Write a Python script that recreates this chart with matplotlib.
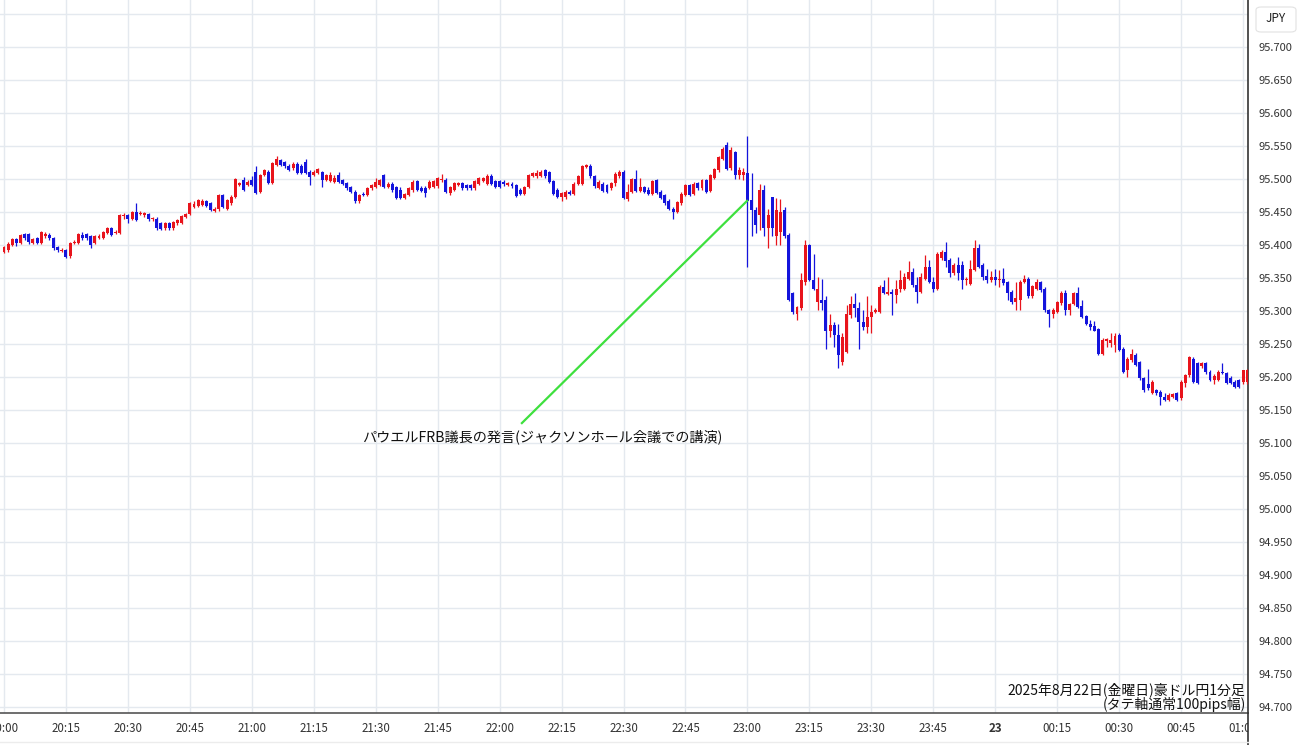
import numpy as np
import matplotlib
matplotlib.use("Agg")
import matplotlib.pyplot as plt
from matplotlib.lines import Line2D
from matplotlib.patches import FancyBboxPatch
from matplotlib.ticker import MultipleLocator, FuncFormatter
from matplotlib.transforms import Bbox, TransformedBbox

plt.rcParams['font.family'] = ['Noto Sans CJK JP', 'DejaVu Sans']

# ---- data: AUD/JPY 1-minute bars, 20:00 -> 01:01 (index = minutes since 20:00)
opens = [
    95.390, 95.392, 95.400, 95.409, 95.403, 95.417, 95.416, 95.403, 95.410, 95.403,
    95.413, 95.415, 95.410, 95.397, 95.391, 95.392, 95.383, 95.403, 95.403, 95.415,
    95.416, 95.413, 95.403, 95.411, 95.411, 95.418, 95.425, 95.418, 95.418, 95.444,
    95.445, 95.440, 95.450, 95.447, 95.445, 95.447, 95.439, 95.440, 95.433, 95.425,
    95.433, 95.425, 95.433, 95.434, 95.443, 95.447, 95.458, 95.459, 95.461, 95.466,
    95.463, 95.452, 95.454, 95.476, 95.455, 95.463, 95.473, 95.491, 95.498, 95.491,
    95.499, 95.510, 95.481, 95.506, 95.511, 95.494, 95.521, 95.529, 95.526, 95.520,
    95.516, 95.523, 95.520, 95.525, 95.511, 95.506, 95.509, 95.510, 95.499, 95.497,
    95.496, 95.506, 95.498, 95.494, 95.488, 95.481, 95.466, 95.478, 95.476, 95.486,
    95.488, 95.491, 95.506, 95.488, 95.493, 95.488, 95.483, 95.471, 95.476, 95.483,
    95.497, 95.487, 95.487, 95.487, 95.488, 95.489, 95.498, 95.499, 95.479, 95.484,
    95.491, 95.494, 95.491, 95.491, 95.486, 95.493, 95.497, 95.493, 95.505, 95.497,
    95.497, 95.495, 95.491, 95.493, 95.491, 95.484, 95.478, 95.488, 95.505, 95.504,
    95.505, 95.513, 95.510, 95.497, 95.484, 95.472, 95.472, 95.481, 95.478, 95.493,
    95.493, 95.518, 95.520, 95.504, 95.487, 95.493, 95.491, 95.486, 95.494, 95.504,
    95.511, 95.469, 95.481, 95.500, 95.482, 95.488, 95.484, 95.478, 95.498, 95.481,
    95.476, 95.467, 95.455, 95.450, 95.463, 95.476, 95.491, 95.477, 95.494, 95.486,
    95.498, 95.482, 95.502, 95.513, 95.531, 95.551, 95.516, 95.541, 95.506, 95.506,
    95.509, 95.468, 95.453, 95.445, 95.483, 95.425, 95.473, 95.413, 95.420, 95.453,
    95.415, 95.327, 95.296, 95.304, 95.344, 95.400, 95.347, 95.314, 95.317, 95.317,
    95.269, 95.279, 95.264, 95.223, 95.238, 95.294, 95.311, 95.304, 95.284, 95.276,
    95.291, 95.299, 95.299, 95.337, 95.326, 95.329, 95.324, 95.334, 95.334, 95.349,
    95.359, 95.339, 95.329, 95.349, 95.367, 95.344, 95.334, 95.380, 95.390, 95.377,
    95.357, 95.370, 95.370, 95.347, 95.341, 95.362, 95.395, 95.370, 95.353, 95.347,
    95.352, 95.347, 95.349, 95.344, 95.329, 95.314, 95.317, 95.344, 95.349, 95.322,
    95.334, 95.344, 95.334, 95.301, 95.296, 95.299, 95.312, 95.328, 95.301, 95.311,
    95.327, 95.307, 95.292, 95.281, 95.277, 95.272, 95.235, 95.254, 95.251, 95.248,
    95.264, 95.243, 95.210, 95.226, 95.233, 95.222, 95.198, 95.190, 95.175, 95.180,
    95.178, 95.170, 95.165, 95.170, 95.175, 95.168, 95.191, 95.203, 95.228, 95.221,
    95.216, 95.221, 95.208, 95.196, 95.195, 95.208, 95.206, 95.198, 95.193, 95.195,
    95.193, 95.193,
]
highs = [
    95.399, 95.404, 95.411, 95.411, 95.417, 95.418, 95.418, 95.411, 95.412, 95.421,
    95.419, 95.418, 95.412, 95.399, 95.395, 95.394, 95.405, 95.407, 95.418, 95.420,
    95.418, 95.415, 95.415, 95.416, 95.421, 95.427, 95.427, 95.422, 95.447, 95.448,
    95.447, 95.452, 95.463, 95.451, 95.450, 95.449, 95.442, 95.442, 95.435, 95.435,
    95.435, 95.437, 95.440, 95.446, 95.449, 95.465, 95.466, 95.470, 95.469, 95.468,
    95.465, 95.457, 95.478, 95.478, 95.470, 95.475, 95.502, 95.496, 95.503, 95.498,
    95.504, 95.520, 95.508, 95.515, 95.513, 95.526, 95.535, 95.531, 95.528, 95.522,
    95.525, 95.525, 95.522, 95.530, 95.513, 95.513, 95.517, 95.512, 95.508, 95.510,
    95.506, 95.510, 95.500, 95.496, 95.490, 95.483, 95.478, 95.480, 95.488, 95.493,
    95.501, 95.500, 95.508, 95.495, 95.495, 95.490, 95.488, 95.479, 95.488, 95.498,
    95.499, 95.489, 95.489, 95.498, 95.499, 95.503, 95.508, 95.501, 95.490, 95.496,
    95.496, 95.496, 95.493, 95.493, 95.499, 95.503, 95.503, 95.507, 95.507, 95.499,
    95.499, 95.499, 95.496, 95.495, 95.493, 95.486, 95.490, 95.508, 95.511, 95.513,
    95.513, 95.515, 95.512, 95.499, 95.486, 95.481, 95.483, 95.483, 95.495, 95.506,
    95.521, 95.523, 95.522, 95.506, 95.498, 95.495, 95.493, 95.496, 95.510, 95.513,
    95.513, 95.493, 95.502, 95.514, 95.501, 95.490, 95.488, 95.499, 95.500, 95.483,
    95.478, 95.469, 95.457, 95.467, 95.480, 95.493, 95.493, 95.495, 95.496, 95.500,
    95.500, 95.508, 95.517, 95.535, 95.548, 95.556, 95.548, 95.543, 95.518, 95.516,
    95.565, 95.509, 95.458, 95.493, 95.491, 95.455, 95.473, 95.471, 95.470, 95.458,
    95.418, 95.329, 95.308, 95.357, 95.408, 95.402, 95.387, 95.352, 95.349, 95.322,
    95.296, 95.284, 95.281, 95.266, 95.309, 95.322, 95.327, 95.314, 95.301, 95.322,
    95.309, 95.304, 95.339, 95.347, 95.352, 95.334, 95.347, 95.362, 95.357, 95.375,
    95.365, 95.352, 95.357, 95.385, 95.377, 95.352, 95.390, 95.393, 95.405, 95.380,
    95.372, 95.382, 95.375, 95.352, 95.378, 95.407, 95.401, 95.372, 95.363, 95.360,
    95.363, 95.362, 95.365, 95.346, 95.332, 95.344, 95.347, 95.354, 95.351, 95.340,
    95.349, 95.346, 95.336, 95.303, 95.305, 95.315, 95.330, 95.332, 95.312, 95.329,
    95.336, 95.317, 95.294, 95.286, 95.285, 95.274, 95.259, 95.259, 95.266, 95.266,
    95.266, 95.245, 95.230, 95.243, 95.236, 95.224, 95.200, 95.212, 95.195, 95.182,
    95.180, 95.175, 95.175, 95.176, 95.177, 95.195, 95.205, 95.232, 95.230, 95.223,
    95.223, 95.223, 95.210, 95.204, 95.210, 95.221, 95.208, 95.201, 95.195, 95.197,
    95.211, 95.212,
]
lows = [
    95.388, 95.390, 95.398, 95.399, 95.401, 95.408, 95.402, 95.401, 95.401, 95.401,
    95.411, 95.408, 95.393, 95.390, 95.389, 95.380, 95.381, 95.401, 95.401, 95.408,
    95.408, 95.395, 95.401, 95.409, 95.409, 95.416, 95.413, 95.416, 95.416, 95.440,
    95.434, 95.438, 95.436, 95.445, 95.443, 95.437, 95.437, 95.423, 95.422, 95.423,
    95.423, 95.423, 95.431, 95.432, 95.441, 95.445, 95.456, 95.457, 95.459, 95.457,
    95.451, 95.450, 95.452, 95.456, 95.453, 95.461, 95.471, 95.489, 95.482, 95.489,
    95.489, 95.477, 95.479, 95.504, 95.492, 95.492, 95.519, 95.519, 95.517, 95.512,
    95.514, 95.507, 95.507, 95.507, 95.491, 95.504, 95.507, 95.488, 95.497, 95.495,
    95.494, 95.494, 95.491, 95.484, 95.479, 95.464, 95.463, 95.474, 95.474, 95.484,
    95.486, 95.489, 95.486, 95.486, 95.481, 95.469, 95.469, 95.469, 95.474, 95.481,
    95.482, 95.481, 95.473, 95.485, 95.486, 95.487, 95.496, 95.479, 95.476, 95.482,
    95.489, 95.484, 95.484, 95.484, 95.484, 95.491, 95.495, 95.491, 95.491, 95.486,
    95.486, 95.490, 95.489, 95.487, 95.472, 95.476, 95.476, 95.486, 95.503, 95.502,
    95.503, 95.502, 95.494, 95.476, 95.471, 95.466, 95.470, 95.476, 95.476, 95.491,
    95.491, 95.516, 95.502, 95.487, 95.485, 95.480, 95.479, 95.484, 95.489, 95.502,
    95.469, 95.467, 95.479, 95.480, 95.481, 95.479, 95.475, 95.476, 95.477, 95.469,
    95.461, 95.453, 95.440, 95.448, 95.461, 95.474, 95.474, 95.475, 95.484, 95.484,
    95.479, 95.480, 95.500, 95.511, 95.529, 95.513, 95.514, 95.500, 95.500, 95.498,
    95.367, 95.413, 95.418, 95.423, 95.413, 95.395, 95.413, 95.400, 95.400, 95.410,
    95.315, 95.296, 95.286, 95.301, 95.339, 95.345, 95.332, 95.301, 95.301, 95.243,
    95.261, 95.246, 95.213, 95.218, 95.236, 95.289, 95.291, 95.243, 95.271, 95.266,
    95.266, 95.297, 95.297, 95.325, 95.324, 95.294, 95.312, 95.329, 95.332, 95.347,
    95.337, 95.312, 95.327, 95.347, 95.342, 95.329, 95.332, 95.378, 95.367, 95.352,
    95.355, 95.347, 95.334, 95.339, 95.339, 95.360, 95.365, 95.347, 95.342, 95.344,
    95.339, 95.337, 95.339, 95.317, 95.311, 95.301, 95.301, 95.342, 95.320, 95.320,
    95.332, 95.329, 95.299, 95.276, 95.290, 95.297, 95.309, 95.294, 95.294, 95.309,
    95.304, 95.289, 95.279, 95.271, 95.269, 95.233, 95.233, 95.246, 95.246, 95.238,
    95.239, 95.206, 95.200, 95.223, 95.216, 95.195, 95.178, 95.181, 95.174, 95.173,
    95.157, 95.163, 95.163, 95.168, 95.163, 95.165, 95.185, 95.200, 95.191, 95.190,
    95.214, 95.205, 95.194, 95.189, 95.194, 95.205, 95.190, 95.190, 95.183, 95.183,
    95.190, 95.190,
]
closes = [
    95.397, 95.402, 95.409, 95.403, 95.415, 95.410, 95.404, 95.409, 95.403, 95.419,
    95.417, 95.410, 95.395, 95.392, 95.393, 95.382, 95.403, 95.405, 95.416, 95.410,
    95.410, 95.400, 95.413, 95.414, 95.419, 95.425, 95.415, 95.420, 95.445, 95.446,
    95.440, 95.450, 95.438, 95.449, 95.448, 95.439, 95.440, 95.425, 95.424, 95.433,
    95.425, 95.435, 95.438, 95.444, 95.447, 95.463, 95.462, 95.468, 95.467, 95.459,
    95.453, 95.455, 95.476, 95.458, 95.468, 95.473, 95.500, 95.494, 95.484, 95.496,
    95.491, 95.479, 95.506, 95.513, 95.494, 95.524, 95.531, 95.521, 95.519, 95.514,
    95.523, 95.509, 95.509, 95.509, 95.503, 95.511, 95.515, 95.499, 95.506, 95.506,
    95.502, 95.496, 95.493, 95.486, 95.481, 95.466, 95.476, 95.476, 95.486, 95.491,
    95.496, 95.498, 95.488, 95.493, 95.483, 95.471, 95.471, 95.477, 95.486, 95.496,
    95.484, 95.482, 95.479, 95.496, 95.497, 95.501, 95.500, 95.481, 95.488, 95.494,
    95.494, 95.486, 95.486, 95.486, 95.497, 95.501, 95.501, 95.505, 95.493, 95.488,
    95.488, 95.493, 95.494, 95.489, 95.474, 95.478, 95.488, 95.506, 95.509, 95.509,
    95.511, 95.504, 95.496, 95.478, 95.473, 95.479, 95.481, 95.478, 95.493, 95.504,
    95.519, 95.521, 95.504, 95.489, 95.496, 95.482, 95.481, 95.494, 95.508, 95.511,
    95.471, 95.481, 95.500, 95.482, 95.488, 95.481, 95.477, 95.497, 95.479, 95.471,
    95.463, 95.455, 95.450, 95.465, 95.478, 95.491, 95.476, 95.493, 95.486, 95.498,
    95.481, 95.506, 95.515, 95.533, 95.546, 95.515, 95.544, 95.506, 95.514, 95.511,
    95.467, 95.453, 95.430, 95.483, 95.425, 95.445, 95.425, 95.453, 95.450, 95.413,
    95.317, 95.299, 95.306, 95.347, 95.400, 95.347, 95.334, 95.334, 95.312, 95.269,
    95.279, 95.264, 95.233, 95.261, 95.296, 95.311, 95.304, 95.284, 95.276, 95.291,
    95.299, 95.301, 95.337, 95.327, 95.329, 95.326, 95.334, 95.347, 95.352, 95.359,
    95.339, 95.329, 95.352, 95.367, 95.344, 95.334, 95.387, 95.390, 95.375, 95.357,
    95.370, 95.357, 95.347, 95.349, 95.363, 95.395, 95.367, 95.351, 95.347, 95.352,
    95.347, 95.349, 95.342, 95.327, 95.314, 95.319, 95.344, 95.349, 95.322, 95.338,
    95.344, 95.332, 95.301, 95.296, 95.301, 95.313, 95.327, 95.301, 95.311, 95.327,
    95.306, 95.291, 95.281, 95.276, 95.270, 95.235, 95.256, 95.257, 95.256, 95.262,
    95.241, 95.208, 95.228, 95.235, 95.218, 95.198, 95.180, 95.183, 95.193, 95.175,
    95.170, 95.165, 95.173, 95.174, 95.165, 95.193, 95.203, 95.231, 95.193, 95.191,
    95.221, 95.208, 95.195, 95.201, 95.208, 95.206, 95.191, 95.191, 95.185, 95.185,
    95.210, 95.210,
]
x_tick_labels = ["20:00", "20:15", "20:30", "20:45", "21:00", "21:15", "21:30",
                 "21:45", "22:00", "22:15", "22:30", "22:45", "23:00", "23:15",
                 "23:30", "23:45", "23", "00:15", "00:30", "00:45", "01:00"]
annotation_text = "パウエルFRB議長の発言(ジャクソンホール会議での講演)"
note_line1 = "2025年8月22日(金曜日)豪ドル円1分足"
note_line2 = "(タテ軸通常100pips幅)"
currency_label = "JPY"
top_label_price = 95.700  # highest price label shown (above is under the JPY box)

# ---- figure
W, H = 1300, 745
fig = plt.figure(figsize=(W / 100, H / 100), dpi=100, facecolor="white")
ax_right_px = 1248
ax_bottom_px = 713
ax = fig.add_axes([0, 1 - ax_bottom_px / H, ax_right_px / W, ax_bottom_px / H])

o = np.array(opens)
h = np.array(highs)
l = np.array(lows)
c = np.array(closes)
x = np.arange(len(c))
up = c >= o
RED = "#e8141c"
BLUE = "#1414dc"
cols = np.where(up, RED, BLUE)

ax.vlines(x, l, h, colors=cols, linewidth=0.9, zorder=3)
body_bottom = np.minimum(o, c)
body_height = np.maximum(np.abs(c - o), 0.0015)
ax.bar(x, body_height, bottom=body_bottom, width=0.72, color=cols,
       linewidth=0, zorder=4)

# axes ranges
ax.set_xlim(-0.97, 301.2)
ax.set_ylim(94.6909, 95.7712)

# ticks & grid
ax.set_xticks(np.arange(0, 15 * len(x_tick_labels), 15))
ax.set_xticklabels(x_tick_labels)
ax.yaxis.set_major_locator(MultipleLocator(0.05))
ax.yaxis.set_major_formatter(
    FuncFormatter(lambda v, pos: "" if v > top_label_price + 0.01 else f"{v:.3f}"))
ax.grid(True, color="#e4e9ef", linewidth=1.0, zorder=0)
ax.set_axisbelow(True)

ax.yaxis.tick_right()
ax.tick_params(axis="y", length=0, pad=7.5, labelsize=8, labelcolor="#333333")
ax.tick_params(axis="x", length=0, pad=6.5, labelsize=8.3, labelcolor="#333333")

for sp in ["top", "left"]:
    ax.spines[sp].set_visible(False)
ax.spines["bottom"].set_color("#555555")
ax.spines["bottom"].set_linewidth(1.2)
ax.spines["right"].set_color("#333333")
ax.spines["right"].set_linewidth(1.2)

# bold day marker, clip last label at the axis edge
clip_bb = TransformedBbox(Bbox([[0, 0], [ax_right_px / W, 1]]), fig.transFigure)
for lab in ax.get_xticklabels():
    if lab.get_text() == "23":
        lab.set_fontweight("bold")
for tk in ax.xaxis.get_major_ticks():
    tk.label1.set_clip_on(True)
    tk.label1.set_clip_box(clip_bb)

# extension lines below the plot
fig.add_artist(Line2D([ax_right_px / W, ax_right_px / W], [0, 1 - ax_bottom_px / H],
                      transform=fig.transFigure, color="#333333", linewidth=1.2))
fig.add_artist(Line2D([0, ax_right_px / W], [1 - 742 / H, 1 - 742 / H],
                      transform=fig.transFigure, color="#ececec", linewidth=1.0))

# currency box
fig.add_artist(FancyBboxPatch((1256 / W, 1 - 32 / H), 40 / W, 25 / H,
                              boxstyle="round,pad=0,rounding_size=0.004",
                              transform=fig.transFigure, facecolor="white",
                              edgecolor="#e2e2e2", linewidth=0.8))
fig.text(1276 / W, 1 - 19 / H, currency_label, ha="center", va="center",
         fontsize=8.5, color="#222222")

# annotation (line from the label to the 23:00 bar)
line_start = (125.2, 95.129)
line_end = (180.1, 95.468)
ax.plot([line_start[0], line_end[0]], [line_start[1], line_end[1]],
        color="#3ee03e", linewidth=1.6, zorder=5, solid_capstyle="butt")
ax.text(86.7, 95.110, annotation_text, ha="left", va="center",
        fontsize=10.2, color="#111111", zorder=6)

# source note bottom right
ax.text(300.6, 94.7265, note_line1, ha="right", va="center", fontsize=10,
        color="#111111", zorder=6)
ax.text(300.6, 94.7035, note_line2, ha="right", va="center", fontsize=10,
        color="#111111", zorder=6)

fig.savefig("out.png", dpi=100, facecolor="white")
